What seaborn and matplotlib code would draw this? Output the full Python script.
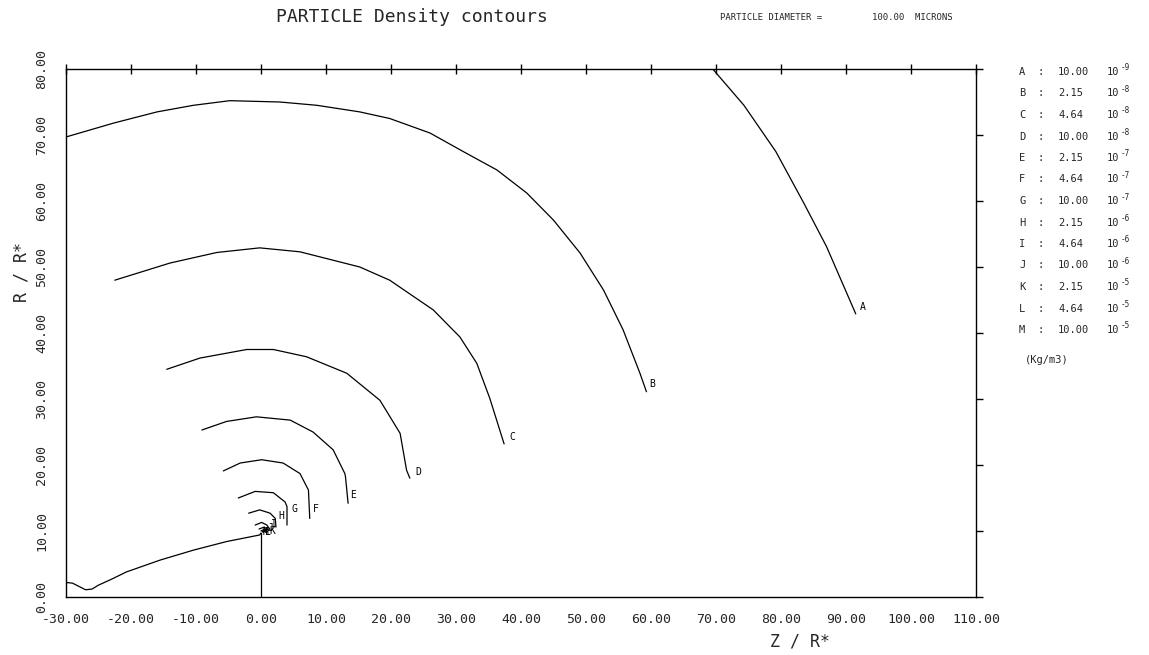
import numpy as np
import pandas as pd
import seaborn as sns
import matplotlib.pyplot as plt

# contour traces: Z / R* and R / R*
a_z = [69.5, 74.3, 79.2, 83.5, 87.0, 91.5]
a_r = [80.0, 74.5, 67.5, 59.7, 53.1, 42.9]
b_z = [-30.0, -22.7, -16.0, -10.4, -4.8, 2.9, 8.6, 15.2, 19.8, 26.0, 31.1, 36.3, 40.9, 45.0, 49.1, 52.7, 55.7, 58.3, 59.3]
b_r = [69.7, 71.8, 73.5, 74.5, 75.2, 75.0, 74.5, 73.5, 72.5, 70.3, 67.5, 64.7, 61.2, 57.1, 52.1, 46.5, 40.5, 33.9, 31.1]
c_z = [-22.5, -14.0, -6.8, -0.2, 6.0, 15.2, 19.8, 26.5, 30.6, 33.2, 35.2, 37.4]
c_r = [48.0, 50.6, 52.2, 52.9, 52.3, 50.0, 48.0, 43.5, 39.4, 35.4, 30.1, 23.2]
d_z = [-14.5, -9.4, -2.2, 1.9, 7.0, 13.2, 18.3, 21.4, 22.4, 22.9]
d_r = [34.5, 36.2, 37.5, 37.5, 36.4, 33.9, 29.8, 24.8, 19.2, 18.0]
e_z = [-9.1, -5.3, -0.7, 4.5, 8.0, 11.1, 12.9, 13.0, 13.4]
e_r = [25.3, 26.6, 27.3, 26.8, 25.0, 22.3, 18.7, 18.2, 14.2]
f_z = [-5.8, -3.2, 0.1, 3.4, 6.0, 7.3, 7.5]
f_r = [19.1, 20.3, 20.8, 20.3, 18.7, 16.2, 11.9]
g_z = [-3.5, -0.9, 1.9, 3.7, 4.0, 4.0]
g_r = [15.0, 16.0, 15.8, 14.4, 13.7, 10.9]
h_z = [-1.9, -0.2, 1.4, 2.2, 2.3]
h_r = [12.7, 13.2, 12.7, 11.9, 10.6]
i_z = [-0.9, 0.1, 0.9, 1.4]
i_r = [10.9, 11.3, 10.9, 10.2]
j_z = [-0.3, 0.5, 1.2]
j_r = [10.3, 10.6, 10.1]
k_z = [0.0, 0.6, 1.0]
k_r = [10.0, 10.3, 9.9]
l_z = [0.2, 0.6, 0.9]
l_r = [9.9, 10.1, 9.8]
m_z = [0.3, 0.6, 0.8]
m_r = [9.8, 9.95, 9.75]
low_z = [-30.0, -29.0, -28.0, -27.0, -26.0, -25.0, -23.2, -20.7, -15.5, -10.4, -5.3, -0.2, 0.0]
low_r = [2.2, 2.1, 1.6, 1.1, 1.2, 1.8, 2.6, 3.8, 5.6, 7.1, 8.4, 9.4, 9.7]
axis_z = [0.0, 0.0]
axis_r = [0.0, 9.7]

letters = ["A", "B", "C", "D", "E", "F", "G", "H", "I", "J", "K", "L", "M"]
label_z = [92.2, 59.7, 38.2, 23.7, 13.7, 8.0, 4.7, 2.7, 1.6, 1.0, 1.3, 0.6, 0.2]
label_r = [43.9, 32.3, 24.2, 19.0, 15.5, 13.3, 13.4, 12.2, 11.0, 10.4, 10.0, 9.9, 9.8]
mantissa = ["10.00", "2.15", "4.64", "10.00", "2.15", "4.64", "10.00",
            "2.15", "4.64", "10.00", "2.15", "4.64", "10.00"]
exponent = ["-9", "-8", "-8", "-8", "-7", "-7", "-7", "-6", "-6", "-6", "-5", "-5", "-5"]

curves = {"A": (a_z, a_r), "B": (b_z, b_r), "C": (c_z, c_r), "D": (d_z, d_r),
          "E": (e_z, e_r), "F": (f_z, f_r), "G": (g_z, g_r), "H": (h_z, h_r),
          "I": (i_z, i_r), "J": (j_z, j_r), "K": (k_z, k_r), "L": (l_z, l_r),
          "M": (m_z, m_r), "low": (low_z, low_r), "axis": (axis_z, axis_r)}
frames = [pd.DataFrame({"z": z, "r": r, "curve": name}) for name, (z, r) in curves.items()]
df = pd.concat(frames, ignore_index=True)

sns.set_style("white")
plt.rcParams['font.family'] = ['DejaVu Sans Mono', 'DejaVu Sans']

W, H = 1149, 655
fig = plt.figure(figsize=(W / 100, H / 100), dpi=100)
ax = fig.add_axes([66 / W, 1 - 597 / H, 910 / W, 528 / H])

sns.lineplot(data=df, x="z", y="r", units="curve", estimator=None, sort=False,
             color="black", linewidth=0.9, ax=ax)

for let, z, r in zip(letters, label_z, label_r):
    ax.text(z, r, let, fontsize=7, color="black", ha="left", va="center")

ax.set_xlim(-30, 110)
ax.set_ylim(0, 80)
xt = np.arange(-30, 111, 10)
yt = np.arange(0, 81, 10)
ax.set_xticks(xt)
ax.set_xticklabels(["%.2f" % v for v in xt], fontsize=9.5)
ax.set_yticks(yt)
ax.set_yticklabels(["%.2f" % v for v in yt], fontsize=9.5, rotation=90, va="center")
ax.tick_params(direction="out", length=5, width=1, top=True, right=True,
               labeltop=False, labelright=False, color="black")
ax.xaxis.set_tick_params(direction="inout", length=7, pad=8)
ax.tick_params(axis="y", pad=8)
for s in ax.spines.values():
    s.set_color("black")
    s.set_linewidth(1)
ax.set_xlabel("")
ax.set_ylabel("")

fig.text(800 / W, 1 - 642 / H, "Z / R*", fontsize=12, ha="center", va="center")
fig.text(22 / W, 1 - 272 / H, "R / R*", fontsize=12, ha="center", va="center", rotation=90)

fig.text(412 / W, 1 - 17 / H, "PARTICLE Density contours", fontsize=13, ha="center", va="center")
fig.text(720 / W, 1 - 18 / H, "PARTICLE DIAMETER =", fontsize=6.5, ha="left", va="center")
fig.text(872 / W, 1 - 18 / H, "100.00  MICRONS", fontsize=6.5, ha="left", va="center")

for i, (let, man, ex) in enumerate(zip(letters, mantissa, exponent)):
    y = 1 - (72 + i * 21.5) / H
    fig.text(1019 / W, y, let, fontsize=7.5, ha="left", va="center")
    fig.text(1038 / W, y, ":", fontsize=7.5, ha="left", va="center")
    fig.text(1058 / W, y, man, fontsize=7.5, ha="left", va="center")
    fig.text(1107 / W, y, "10", fontsize=7.5, ha="left", va="center")
    fig.text(1121 / W, y + 4 / H, ex, fontsize=5.5, ha="left", va="center")
fig.text(1025 / W, 1 - (72 + 12 * 21.5 + 30) / H, "(Kg/m3)", fontsize=7.5, ha="left", va="center")

fig.savefig("out.png", dpi=100)
